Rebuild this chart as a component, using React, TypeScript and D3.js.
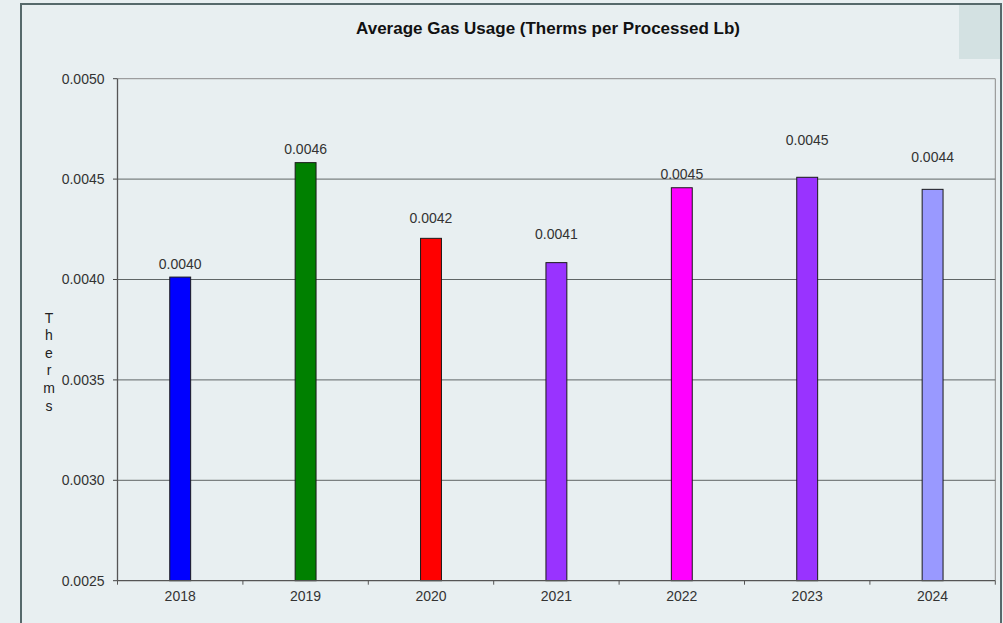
import React from "react";
import * as d3 from "d3";

// Fiscal years on the x axis
const years = ["2018", "2019", "2020", "2021", "2022", "2023", "2024"];
// Average therms per processed pound
const therms = [0.004012, 0.004582, 0.004205, 0.004084, 0.004457, 0.004509, 0.004449];
// Bar fill per year
const barColors = ["#0000ff", "#008000", "#ff0000", "#9933ff", "#ff00ff", "#9933ff", "#9999ff"];
// Y axis ticks
const yTicks = [0.0025, 0.003, 0.0035, 0.004, 0.0045, 0.005];
const axisTitle = "Therms";
const chartTitle = "Average Gas Usage (Therms per Processed Lb)";

// Layout
const W = 1003;
const H = 623;
const plot = { left: 117.5, right: 995.3, top: 78.7, bottom: 580.7 };
// Distance (px) from each bar top to the middle of its value label
const labelGap = [13, 14, 20, 29, 14, 37, 32];

const BG = "#e8eff1";
const FONT = "'Liberation Sans', Arial, sans-serif";

export default function App() {
  const x = d3.scaleBand<string>().domain(years).range([plot.left, plot.right]).paddingInner(0).paddingOuter(0);
  const y = d3.scaleLinear().domain([0.0025, 0.005]).range([plot.bottom, plot.top]);
  const barW = x.bandwidth() / 6;
  const fmt = d3.format(".4f");

  const boundaries = d3.range(years.length + 1).map((i) => plot.left + i * x.bandwidth());

  return (
    <div style={{ position: "fixed", left: 0, top: 0, width: W, height: H, background: BG }}>
      <svg width={W} height={H} style={{ display: "block" }} fontFamily={FONT}>
        <rect x={0} y={0} width={W} height={H} fill={BG} />
        {/* outer frame */}
        <rect x={21} y={4} width={980} height={640} fill="none" stroke="#56696b" strokeWidth={2} />
        <rect x={959} y={5} width={41} height={54} fill="#d3e1e2" />

        {/* title */}
        <text x={548} y={28.5} textAnchor="middle" dy="0.35em" fontSize={17} fontWeight="bold" fill="#111">
          {chartTitle}
        </text>

        {/* plot border (top / right) */}
        <line x1={plot.left} x2={plot.right} y1={plot.top} y2={plot.top} stroke="#8a8a8a" strokeWidth={1} />
        <line x1={plot.right} x2={plot.right} y1={plot.top} y2={plot.bottom} stroke="#8a8a8a" strokeWidth={1} />

        {/* gridlines and y ticks */}
        {yTicks.map((t) => (
          <g key={t}>
            {t > 0.0025 && t < 0.005 && (
              <line x1={plot.left} x2={plot.right} y1={y(t)} y2={y(t)} stroke="#5f6566" strokeWidth={1} />
            )}
            <line x1={plot.left - 4.5} x2={plot.left} y1={y(t)} y2={y(t)} stroke="#444" strokeWidth={1} />
            <text x={104.5} y={y(t)} dy="0.35em" textAnchor="end" fontSize={14} fill="#333">
              {fmt(t)}
            </text>
          </g>
        ))}

        {/* bars */}
        {years.map((yr, i) => {
          const cx = (x(yr) as number) + x.bandwidth() / 2;
          const top = y(therms[i]);
          return (
            <g key={yr}>
              <rect
                x={cx - barW / 2}
                y={top}
                width={barW}
                height={plot.bottom - top}
                fill={barColors[i]}
                stroke="#1a1a1a"
                strokeWidth={1}
              />
              <text x={cx} y={top - labelGap[i]} dy="0.35em" textAnchor="middle" fontSize={14} fill="#333">
                {fmt(therms[i])}
              </text>
              <text x={cx} y={596} dy="0.35em" textAnchor="middle" fontSize={14} fill="#333">
                {yr}
              </text>
            </g>
          );
        })}

        {/* axes */}
        <line x1={plot.left} x2={plot.left} y1={plot.top} y2={plot.bottom} stroke="#555" strokeWidth={1.3} />
        <line x1={plot.left} x2={plot.right} y1={plot.bottom} y2={plot.bottom} stroke="#555" strokeWidth={1.3} />
        {boundaries.map((bx, i) => (
          <line key={i} x1={bx} x2={bx} y1={plot.bottom} y2={plot.bottom + 4} stroke="#555" strokeWidth={1} />
        ))}

        {/* stacked axis title */}
        {axisTitle.split("").map((ch, i) => (
          <text key={i} x={49} y={317.7 + i * 17.6} dy="0.35em" textAnchor="middle" fontSize={14} fill="#222">
            {ch}
          </text>
        ))}
      </svg>
    </div>
  );
}
